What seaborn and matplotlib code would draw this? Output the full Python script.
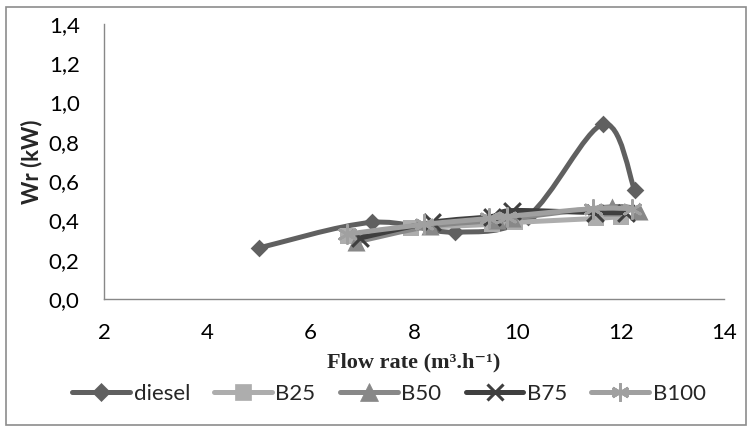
"""
Wr (kW) against flow rate for diesel and biodiesel blends
"""

import numpy as np
import pandas as pd
import seaborn as sns
import matplotlib
matplotlib.use('Agg')
import matplotlib.pyplot as plt
from matplotlib.path import Path
from matplotlib.patches import PathPatch, Rectangle
from matplotlib.lines import Line2D

# values
series_names = ['diesel', 'B25', 'B50', 'B75', 'B100']

diesel_x = [5.0, 7.18, 8.8, 10.2, 11.66, 12.27]
diesel_y = [0.26, 0.39, 0.34, 0.42, 0.89, 0.555]

b25_x = [6.73, 7.95, 9.5, 9.95, 11.52, 12.0]
b25_y = [0.32, 0.36, 0.38, 0.39, 0.41, 0.42]

b50_x = [6.88, 8.3, 9.6, 9.9, 11.84, 12.35]
b50_y = [0.29, 0.37, 0.40, 0.41, 0.47, 0.45]

b75_x = [6.95, 8.35, 9.5, 9.9, 11.5, 12.1]
b75_y = [0.31, 0.39, 0.42, 0.45, 0.44, 0.44]

b100_x = [6.7, 8.2, 9.45, 9.8, 11.47, 12.22]
b100_y = [0.33, 0.38, 0.41, 0.42, 0.46, 0.46]

x_ticks = [2, 4, 6, 8, 10, 12, 14]
y_ticks = [0.0, 0.2, 0.4, 0.6, 0.8, 1.0, 1.2, 1.4]
y_tick_labels = ['0,0', '0,2', '0,4', '0,6', '0,8', '1,0', '1,2', '1,4']

# style per series
colors = ['#606060', '#adadad', '#888888', '#3f3f3f', '#a0a0a0']
markers = ['D', 's', '^', 'x', (6, 2, 0)]
marker_sizes = [9, 12, 13, 12, 13]
marker_edges = [0, 0, 0, 2.2, 2.0]


def smooth_path(xs, ys):
    # excel-like smoothed line: catmull-rom segments written as cubic beziers
    pts = np.column_stack([xs, ys])
    n = len(pts)
    verts = [pts[0]]
    codes = [Path.MOVETO]
    for i in range(n - 1):
        p0 = pts[i - 1] if i > 0 else pts[i]
        p1 = pts[i]
        p2 = pts[i + 1]
        p3 = pts[i + 2] if i + 2 < n else pts[i + 1]
        c1 = p1 + (p2 - p0) / 6.0
        c2 = p2 - (p3 - p1) / 6.0
        verts += [c1, c2, p2]
        codes += [Path.CURVE4] * 3
    return Path(verts, codes)


def main():
    sns.set_style('white')
    plt.rcParams['font.family'] = ['Lato', 'DejaVu Sans']

    frames = []
    for name, xs, ys in zip(series_names,
                            [diesel_x, b25_x, b50_x, b75_x, b100_x],
                            [diesel_y, b25_y, b50_y, b75_y, b100_y]):
        frames.append(pd.DataFrame({'flow': xs, 'wr': ys, 'fuel': name}))
    df = pd.concat(frames, ignore_index=True)

    fig = plt.figure(figsize=(7.53, 4.32), dpi=100)
    ax = fig.add_axes([104 / 753, 1 - 299 / 432, 620 / 753, 275 / 432])

    handles = []
    for k, name in enumerate(series_names):
        sub = df[df['fuel'] == name]
        z = 3 + 2 * k
        patch = PathPatch(smooth_path(sub['flow'].values, sub['wr'].values),
                          facecolor='none', edgecolor=colors[k], lw=3.6,
                          capstyle='round', joinstyle='round',
                          transform=ax.transData, zorder=z)
        ax.add_patch(patch)
        sns.scatterplot(data=sub, x='flow', y='wr', ax=ax, marker=markers[k],
                        s=marker_sizes[k] ** 2, color=colors[k],
                        edgecolor=colors[k], linewidth=marker_edges[k],
                        zorder=z + 1, legend=False)
        handles.append(Line2D([0], [0], color=colors[k], lw=3.6,
                              marker=markers[k], markersize=marker_sizes[k],
                              markeredgewidth=max(marker_edges[k], 0.5),
                              markerfacecolor=colors[k],
                              markeredgecolor=colors[k], label=name))

    ax.set_xlim(2, 14)
    ax.set_ylim(0, 1.4)
    ax.set_xticks(x_ticks)
    ax.set_xticklabels([str(t) for t in x_ticks])
    ax.set_yticks(y_ticks)
    ax.set_yticklabels(y_tick_labels)
    ax.tick_params(direction='out', length=5.5, width=1, color='#888888',
                   labelsize=16, labelcolor='black', pad=12)

    for side in ['top', 'right']:
        ax.spines[side].set_visible(False)
    for side in ['left', 'bottom']:
        ax.spines[side].set_color('#888888')
        ax.spines[side].set_linewidth(1.0)

    ax.set_xlabel('Flow rate (m\u00b3.h\u207b\u00b9)', fontsize=16,
                  fontweight='bold', family=['Liberation Serif', 'DejaVu Serif'],
                  va='center')
    ax.xaxis.set_label_coords(0.5, (299 - 362) / 275)
    ax.set_ylabel('Wr (kW)', fontsize=16, fontweight='bold', va='center')
    ax.yaxis.set_label_coords((32 - 104) / 620, 0.5)

    fig.legend(handles=handles, loc='center', ncol=5, frameon=False,
               bbox_to_anchor=(389 / 753, 1 - 394 / 432), fontsize=16,
               handlelength=2.6, handletextpad=0.15, columnspacing=1.1)

    # chart area border
    fig.patches.append(Rectangle((6 / 753, 7 / 432), 740 / 753, 418 / 432,
                                 transform=fig.transFigure, fill=False,
                                 edgecolor='#8c8c8c', lw=1.2))

    fig.savefig('out.png', dpi=100)


if __name__ == '__main__':
    main()
